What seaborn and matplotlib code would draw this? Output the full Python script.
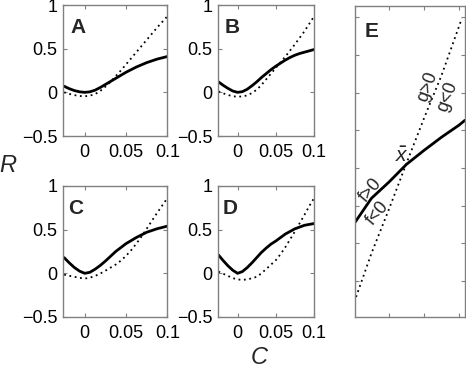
import numpy as np
import pandas as pd
import seaborn as sns
import matplotlib.pyplot as plt

sns.set_style("ticks")
plt.rcParams["font.family"] = ["Liberation Sans", "DejaVu Sans"]
plt.rcParams["mathtext.fontset"] = "custom"
plt.rcParams["mathtext.it"] = "Liberation Sans:italic"

# %% data
C_grid = [-0.025, -0.01875, -0.0125, -0.00625, 0, 0.00625, 0.0125, 0.01875,
          0.025, 0.03125, 0.0375, 0.04375, 0.05, 0.05625, 0.0625, 0.06875,
          0.075, 0.08125, 0.0875, 0.09375, 0.1]

solid_A = [0.07, 0.042, 0.02, 0.006, 0.0, 0.006, 0.025, 0.055, 0.09, 0.125,
           0.16, 0.195, 0.23, 0.26, 0.29, 0.315, 0.34, 0.36, 0.38, 0.395, 0.41]
dotted_A = [0.0, -0.018, -0.032, -0.042, -0.045, -0.038, -0.02, 0.015, 0.065,
            0.12, 0.185, 0.25, 0.32, 0.39, 0.46, 0.53, 0.60, 0.67, 0.74, 0.805, 0.87]

solid_B = [0.12, 0.08, 0.045, 0.015, 0.0, 0.008, 0.035, 0.075, 0.12, 0.17,
           0.215, 0.26, 0.30, 0.335, 0.37, 0.40, 0.425, 0.445, 0.46, 0.475, 0.49]
dotted_B = [0.01, -0.012, -0.03, -0.045, -0.05, -0.047, -0.035, -0.008, 0.03,
            0.085, 0.15, 0.215, 0.28, 0.345, 0.41, 0.48, 0.55, 0.625, 0.70, 0.785, 0.87]

solid_C = [0.18, 0.12, 0.066, 0.025, 0.0, 0.012, 0.047, 0.09, 0.14, 0.195,
           0.25, 0.295, 0.34, 0.375, 0.41, 0.44, 0.47, 0.49, 0.51, 0.525, 0.54]
dotted_C = [-0.015, -0.028, -0.04, -0.052, -0.06, -0.05, -0.03, -0.003, 0.03,
            0.065, 0.10, 0.145, 0.20, 0.265, 0.34, 0.42, 0.51, 0.60, 0.69, 0.775, 0.86]

solid_D = [0.21, 0.145, 0.085, 0.035, 0.0, 0.02, 0.065, 0.12, 0.18, 0.24,
           0.29, 0.335, 0.37, 0.41, 0.45, 0.48, 0.51, 0.53, 0.55, 0.56, 0.57]
dotted_D = [0.02, -0.005, -0.03, -0.055, -0.07, -0.075, -0.07, -0.057, -0.04,
            0.0, 0.05, 0.10, 0.15, 0.22, 0.30, 0.39, 0.48, 0.575, 0.67, 0.77, 0.86]

E_x_solid = [0.03, 0.5, 1.0, 1.5, 2.0, 2.5, 3.0, 3.17]
E_y_solid = [1.56, 2.20, 2.63, 3.10, 3.47, 3.82, 4.14, 4.27]
E_x_dotted = [0.06, 0.5, 1.0, 1.5, 2.0, 2.5, 3.0, 3.08]
E_y_dotted = [-0.42, 0.74, 1.91, 3.13, 4.32, 5.46, 6.76, 6.97]

panels = {"A": (solid_A, dotted_A), "B": (solid_B, dotted_B),
          "C": (solid_C, dotted_C), "D": (solid_D, dotted_D)}

# %% layout (figure fractions)
fig = plt.figure(figsize=(4.66, 3.68), dpi=100)
rects = {"A": [0.1358, 0.6304, 0.2232, 0.356],
         "B": [0.4672, 0.6304, 0.2067, 0.356],
         "C": [0.1358, 0.1386, 0.2232, 0.356],
         "D": [0.4672, 0.1386, 0.2067, 0.356]}
letter_x = {"A": 0.067, "B": 0.073, "C": 0.05, "D": 0.055}

dot_style = (0, (1, 2))
frame = "#808080"


def style_axes(ax):
    for s in ax.spines.values():
        s.set_visible(True)
        s.set_color(frame)
        s.set_linewidth(1.0)
    ax.tick_params(direction="in", top=True, right=True, length=3,
                   width=0.8, color=frame, labelsize=13, labelcolor="black")
    ax.tick_params(axis="x", pad=6)
    ax.tick_params(axis="y", pad=4)
    ax.set_xlabel("")
    ax.set_ylabel("")


for name, (solid, dotted) in panels.items():
    ax = fig.add_axes(rects[name])
    df = pd.DataFrame({"C": C_grid, "solid": solid, "dotted": dotted})
    sns.lineplot(data=df, x="C", y="dotted", ax=ax, color="black",
                 linewidth=1.3, linestyle=dot_style)
    sns.lineplot(data=df, x="C", y="solid", ax=ax, color="black",
                 linewidth=2.0)
    ax.set_xlim(-0.026, 0.1)
    ax.set_ylim(-0.5, 1)
    ax.set_xticks([0, 0.05, 0.1])
    ax.set_xticklabels(["0", "0.05", "0.1"])
    ax.set_yticks([-0.5, 0, 0.5, 1])
    ax.set_yticklabels(["\u22120.5", "0", "0.5", "1"])
    style_axes(ax)
    ax.text(letter_x[name], 0.9, name, transform=ax.transAxes,
            ha="left", va="top", fontsize=15, fontweight="bold")

# %% panel E
axE = fig.add_axes([0.7618, 0.1386, 0.236, 0.845])
sns.lineplot(x=E_x_dotted, y=E_y_dotted, ax=axE, color="black",
             linewidth=1.3, linestyle=dot_style)
sns.lineplot(x=E_x_solid, y=E_y_solid, ax=axE, color="black", linewidth=2.0)
axE.set_xlim(0.03, 3.17)
axE.set_ylim(-0.95, 7.3)
axE.set_xticks([1, 2, 3])
axE.set_yticks(range(8))
axE.set_xticklabels([])
axE.set_yticklabels([])
style_axes(axE)
axE.text(0.09, 0.95, "E", transform=axE.transAxes, ha="left", va="top",
         fontsize=15, fontweight="bold")
axE.text(2.11, 5.15, "g>0", rotation=70, ha="center", va="center", fontsize=13)
axE.text(2.66, 4.90, "g<0", rotation=70, ha="center", va="center", fontsize=13)
axE.text(0.46, 2.42, "f>0", rotation=50, ha="center", va="center", fontsize=13)
axE.text(0.68, 1.80, "f<0", rotation=50, ha="center", va="center", fontsize=13)
axE.text(1.37, 3.30, r"$\bar{x}$", ha="center", va="center", fontsize=15)

# axis labels
fig.text(8 / 466, 1 - 165 / 368, "R", fontsize=17, style="italic",
         ha="center", va="center")
fig.text(259 / 466, 1 - 358 / 368, "C", fontsize=17, style="italic",
         ha="center", va="center")

plt.savefig("out.png", dpi=100)
